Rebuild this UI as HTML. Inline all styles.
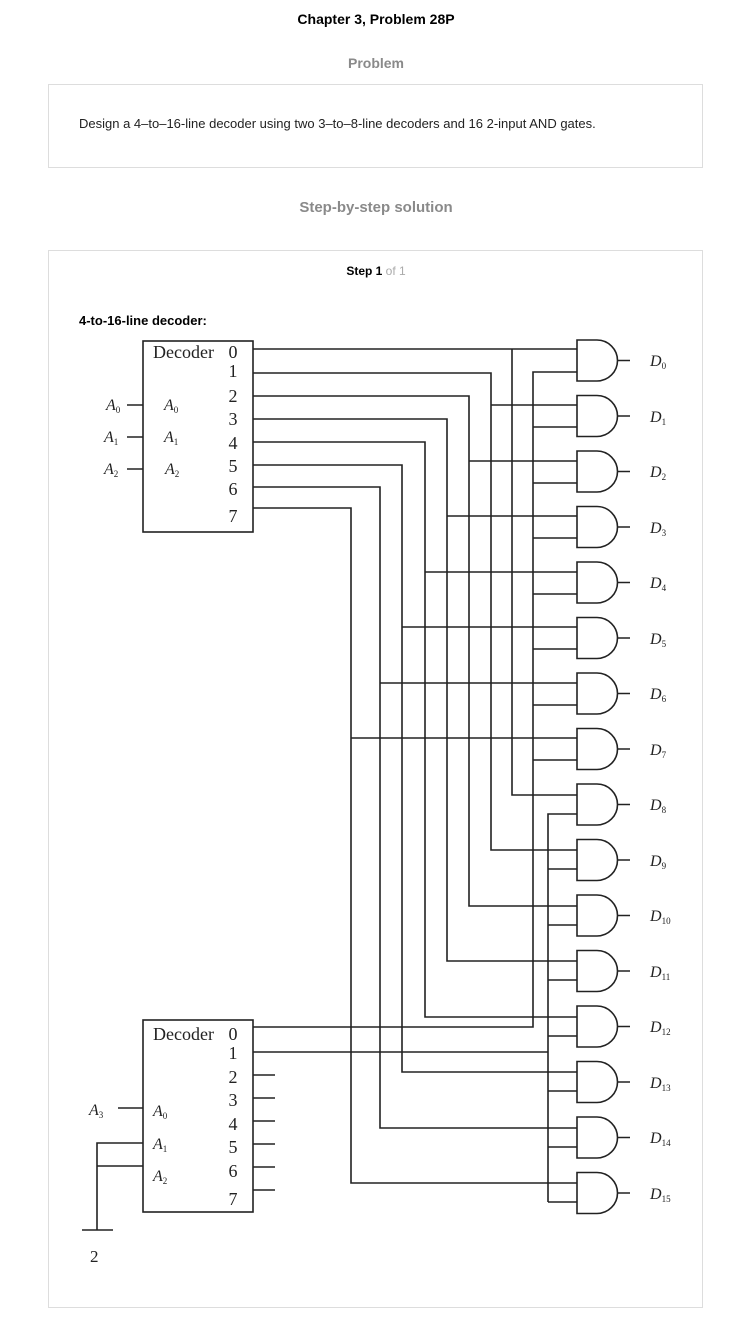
<!DOCTYPE html>
<html><head><meta charset="utf-8"><style>
body{margin:0;background:#fff;width:752px;height:1334px;position:relative;font-family:"Liberation Sans",sans-serif;}
.a{position:absolute;}
tspan{font-style:normal;}
</style></head><body>
<div class="a" style="left:0;width:752px;top:11px;text-align:center;font-size:14px;font-weight:bold;color:#000">Chapter 3, Problem 28P</div>
<div class="a" style="left:0;width:752px;top:55px;text-align:center;font-size:14px;font-weight:bold;color:#8a8a8a">Problem</div>
<div class="a" style="left:48px;top:84px;width:653px;height:82px;border:1px solid #ddd"></div>
<div class="a" style="left:79px;top:116px;font-size:13px;color:#222">Design a 4–to–16-line decoder using two 3–to–8-line decoders and 16 2-input AND gates.</div>
<div class="a" style="left:0;width:752px;top:199px;text-align:center;font-size:15px;font-weight:bold;color:#8a8a8a">Step-by-step solution</div>
<div class="a" style="left:48px;top:250px;width:653px;height:1056px;border:1px solid #ddd"></div>
<div class="a" style="left:0;width:752px;top:264px;text-align:center;font-size:12px;font-weight:bold;color:#000">Step 1 <span style="color:#aaa;font-weight:normal">of 1</span></div>
<div class="a" style="left:79px;top:313px;font-size:13px;font-weight:bold;color:#000">4-to-16-line decoder:</div>
<svg class="a" style="left:0;top:0" width="752" height="1334" xmlns="http://www.w3.org/2000/svg">
<g stroke="#222" stroke-width="1.6" fill="none">
<rect x="143" y="341" width="110" height="191"/>
<rect x="143" y="1020" width="110" height="192"/>
<path d="M127 405H143M127 437H143M127 469H143"/>
<path d="M253 349H577"/>
<path d="M512 349V795H577"/>
<path d="M253 373H491V850H577"/>
<path d="M253 396H469V906H577"/>
<path d="M253 419H447V961H577"/>
<path d="M253 442H425V1017H577"/>
<path d="M253 465H402V1072H577"/>
<path d="M253 487H380V1128H577"/>
<path d="M253 508H351V1183H577"/>
<path d="M491 405H577M469 461H577M447 516H577M425 572H577M402 627H577M380 683H577M351 738H577"/>
<path d="M253 1027H533V372H577"/>
<path d="M533 427H577M533 483H577M533 538H577M533 594H577M533 649H577M533 705H577M533 760H577"/>
<path d="M253 1052H548M548 1202V814H577"/>
<path d="M548 869H577M548 925H577M548 980H577M548 1036H577M548 1091H577M548 1147H577M548 1202H577"/>
<path d="M253 1075H275M253 1098H275M253 1121H275M253 1144H275M253 1167H275M253 1190H275"/>
<path d="M118 1108H143M143 1143H97V1230M97 1166H143M82 1230H113"/>
</g>
<g stroke="#222" stroke-width="1.6" fill="#fff">
<path d="M577 340H597A20.5 20.5 0 0 1 597 381H577ZM617.5 360.5H630"/>
<path d="M577 395.5H597A20.5 20.5 0 0 1 597 436.5H577ZM617.5 416H630"/>
<path d="M577 451H597A20.5 20.5 0 0 1 597 492H577ZM617.5 471.5H630"/>
<path d="M577 506.5H597A20.5 20.5 0 0 1 597 547.5H577ZM617.5 527H630"/>
<path d="M577 562H597A20.5 20.5 0 0 1 597 603H577ZM617.5 582.5H630"/>
<path d="M577 617.5H597A20.5 20.5 0 0 1 597 658.5H577ZM617.5 638H630"/>
<path d="M577 673H597A20.5 20.5 0 0 1 597 714H577ZM617.5 693.5H630"/>
<path d="M577 728.5H597A20.5 20.5 0 0 1 597 769.5H577ZM617.5 749H630"/>
<path d="M577 784H597A20.5 20.5 0 0 1 597 825H577ZM617.5 804.5H630"/>
<path d="M577 839.5H597A20.5 20.5 0 0 1 597 880.5H577ZM617.5 860H630"/>
<path d="M577 895H597A20.5 20.5 0 0 1 597 936H577ZM617.5 915.5H630"/>
<path d="M577 950.5H597A20.5 20.5 0 0 1 597 991.5H577ZM617.5 971H630"/>
<path d="M577 1006H597A20.5 20.5 0 0 1 597 1047H577ZM617.5 1026.5H630"/>
<path d="M577 1061.5H597A20.5 20.5 0 0 1 597 1102.5H577ZM617.5 1082H630"/>
<path d="M577 1117H597A20.5 20.5 0 0 1 597 1158H577ZM617.5 1137.5H630"/>
<path d="M577 1172.5H597A20.5 20.5 0 0 1 597 1213.5H577ZM617.5 1193H630"/>
</g>
<g font-family="Liberation Serif,serif" font-size="18" fill="#222">
<text x="153" y="358">Decoder</text>
<g text-anchor="middle">
<text x="233" y="358">0</text><text x="233" y="377">1</text><text x="233" y="402">2</text><text x="233" y="425">3</text><text x="233" y="449">4</text><text x="233" y="472">5</text><text x="233" y="495">6</text><text x="233" y="522">7</text>
</g>
<text x="153" y="1040">Decoder</text>
<g text-anchor="middle">
<text x="233" y="1040">0</text><text x="233" y="1059">1</text><text x="233" y="1083">2</text><text x="233" y="1106">3</text><text x="233" y="1130">4</text><text x="233" y="1153">5</text><text x="233" y="1177">6</text><text x="233" y="1205">7</text>
</g>
<text x="90" y="1262" font-size="17">2</text>
<g font-style="italic" font-size="16">
<text x="106" y="410">A<tspan font-size="9" dy="3">0</tspan></text>
<text x="104" y="442">A<tspan font-size="9" dy="3">1</tspan></text>
<text x="104" y="474">A<tspan font-size="9" dy="3">2</tspan></text>
<text x="164" y="410">A<tspan font-size="9" dy="3">0</tspan></text>
<text x="164" y="442">A<tspan font-size="9" dy="3">1</tspan></text>
<text x="165" y="474">A<tspan font-size="9" dy="3">2</tspan></text>
<text x="89" y="1115">A<tspan font-size="9" dy="3">3</tspan></text>
<text x="153" y="1116">A<tspan font-size="9" dy="3">0</tspan></text>
<text x="153" y="1149">A<tspan font-size="9" dy="3">1</tspan></text>
<text x="153" y="1181">A<tspan font-size="9" dy="3">2</tspan></text>
<text x="650" y="366">D<tspan font-size="9" dy="3">0</tspan></text>
<text x="650" y="422">D<tspan font-size="9" dy="3">1</tspan></text>
<text x="650" y="477">D<tspan font-size="9" dy="3">2</tspan></text>
<text x="650" y="533">D<tspan font-size="9" dy="3">3</tspan></text>
<text x="650" y="588">D<tspan font-size="9" dy="3">4</tspan></text>
<text x="650" y="644">D<tspan font-size="9" dy="3">5</tspan></text>
<text x="650" y="699">D<tspan font-size="9" dy="3">6</tspan></text>
<text x="650" y="755">D<tspan font-size="9" dy="3">7</tspan></text>
<text x="650" y="810">D<tspan font-size="9" dy="3">8</tspan></text>
<text x="650" y="866">D<tspan font-size="9" dy="3">9</tspan></text>
<text x="650" y="921">D<tspan font-size="9" dy="3">10</tspan></text>
<text x="650" y="977">D<tspan font-size="9" dy="3">11</tspan></text>
<text x="650" y="1032">D<tspan font-size="9" dy="3">12</tspan></text>
<text x="650" y="1088">D<tspan font-size="9" dy="3">13</tspan></text>
<text x="650" y="1143">D<tspan font-size="9" dy="3">14</tspan></text>
<text x="650" y="1199">D<tspan font-size="9" dy="3">15</tspan></text>
</g>
</g>
</svg>
</body></html>
